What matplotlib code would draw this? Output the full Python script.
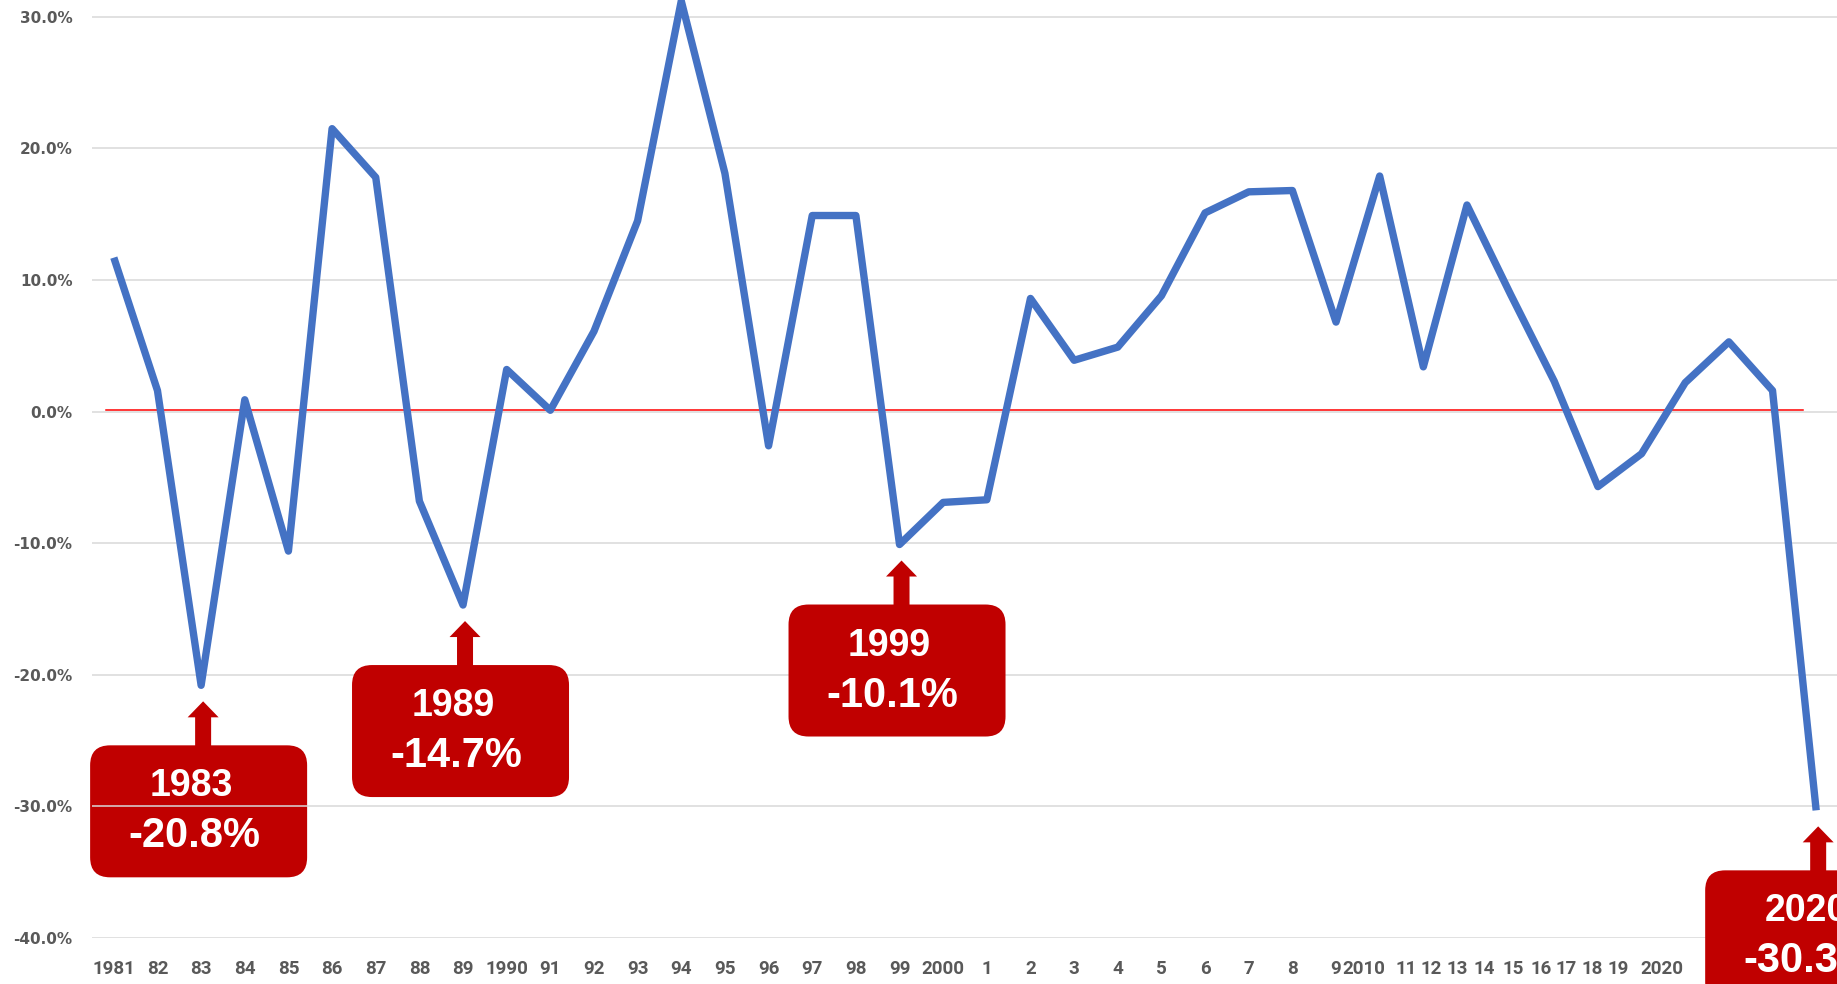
import matplotlib.pyplot as plt
from matplotlib.patches import FancyBboxPatch, FancyArrow
from matplotlib.transforms import Affine2D, ScaledTranslation

# Variação anual (%)
years = list(range(1981, 2021))
changes = [11.7, 1.6, -20.8, 0.9, -10.6, 21.5, 17.8, -6.8, -14.7, 3.2,
           0.1, 6.1, 14.5, 31.2, 18.1, -2.6, 14.9, 14.9, -10.1, -6.9,
           -6.7, 8.6, 3.9, 4.9, 8.8, 15.1, 16.7, 16.8, 6.8, 17.9,
           3.4, 15.7, 8.9, 2.3, -5.7, -3.2, 2.2, 5.3, 1.6, -30.3]

x_labels = ["1981", "82", "83", "84", "85", "86", "87", "88", "89", "1990",
            "91", "92", "93", "94", "95", "96", "97", "98", "99", "2000",
            "1", "2", "3", "4", "5", "6", "7", "8", "9", "2010",
            "11", "12", "13", "14", "15", "16", "17", "18", "19", "2020"]
y_ticks = [-40, -30, -20, -10, 0, 10, 20, 30]

annot_years = [1983, 1989, 1999, 2020]

# posições dos rótulos do eixo x (os últimos ficam apertados no original)
x_label_pos = list(range(29)) + [28.64, 29.6, 30.17, 30.77, 31.4, 32.05,
                                 32.69, 33.28, 33.87, 34.46, 35.46]

red = '#C00000'
gray = '#595959'

fig = plt.figure(figsize=(18.37, 9.84), dpi=100)
ax = fig.add_axes([92 / 1837, 46 / 984, 1746 / 1837, 1052.8 / 984])

idx = list(range(len(years)))
ax.plot(idx, changes, color='#4472C4', linewidth=5.3,
        solid_joinstyle='round', solid_capstyle='butt', zorder=3)

# linha vermelha do zero
ax.axhline(0.15, xmin=0.008, xmax=0.98, color='red', linewidth=1.1, zorder=2)

ax.set_xlim(-0.5, 39.5)
ax.set_ylim(-40, 40)
ax.set_yticks(y_ticks)
ax.set_yticklabels([f"{v:.1f}%" for v in y_ticks], fontsize=11,
                   fontweight='bold', color=gray, family='DejaVu Sans')
ax.set_xticks(x_label_pos)
ax.set_xticklabels(x_labels, fontsize=13.5, fontweight='bold', color=gray,
                   family='Roboto')
ax.tick_params(axis='y', length=0, pad=14)
ax.tick_params(axis='x', length=0, pad=16)

ax.set_axisbelow(True)
ax.grid(axis='y', color='#D9D9D9', linewidth=1.1)
for s in ax.spines.values():
    s.set_visible(False)

# caixas de destaque
for yr in annot_years:
    i = years.index(yr)
    v = changes[i]
    tr = Affine2D().scale(1, -1) + ScaledTranslation(i, v, ax.transData)
    z = 0.4 if yr == 1983 else 6
    ax.add_patch(FancyBboxPatch((-111, 60), 217, 132,
                                boxstyle='round,pad=0,rounding_size=20',
                                fc=red, ec='none', transform=tr,
                                clip_on=False, zorder=z))
    ax.add_patch(FancyArrow(2, 61, 0, -45, width=16, head_width=31,
                            head_length=16, length_includes_head=True,
                            fc=red, ec='none', transform=tr,
                            clip_on=False, zorder=z))
    ax.text(-10, 101, str(yr), transform=tr, ha='center', va='center',
            fontsize=27, fontweight='bold', color='white',
            family='Liberation Sans', clip_on=False, zorder=z + 0.05)
    ax.text(-7, 151, f"{v:.1f}%", transform=tr, ha='center', va='center',
            fontsize=30, fontweight='bold', color='white',
            family='Liberation Sans', clip_on=False, zorder=z + 0.05)

fig.savefig('out.png', dpi=100)
